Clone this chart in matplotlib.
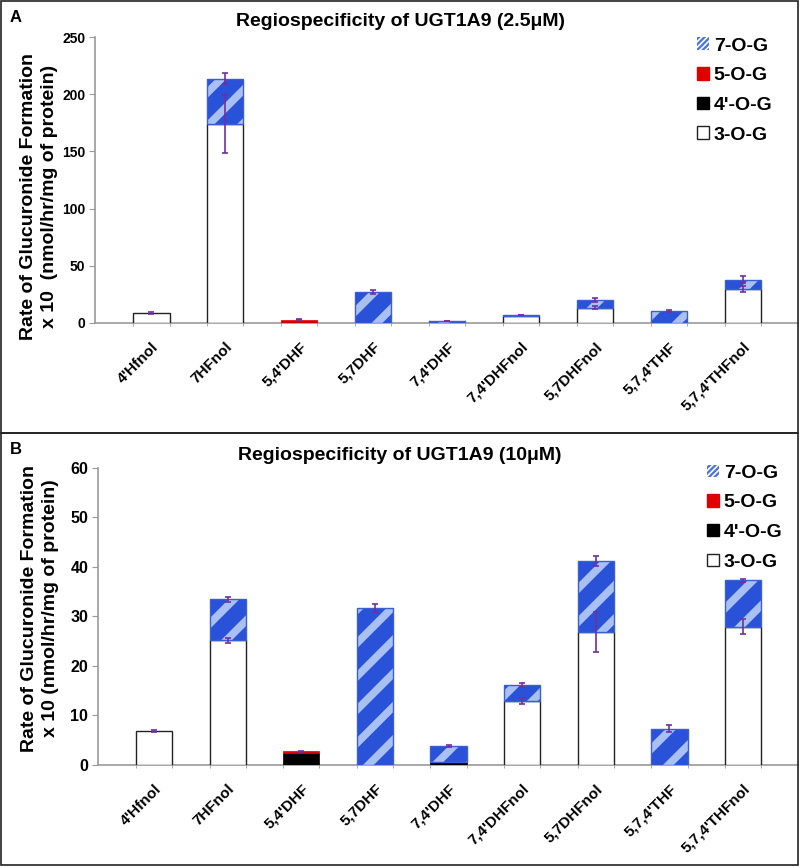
import numpy as np
import matplotlib
matplotlib.use("Agg")
import matplotlib.pyplot as plt
from matplotlib.patches import Patch, Rectangle

plt.rcParams['font.family'] = ['Liberation Sans', 'DejaVu Sans']
plt.rcParams['font.weight'] = 'bold'
plt.rcParams['hatch.linewidth'] = 5.5

compounds = ["4'Hfnol", "7HFnol", "5,4'DHF", "5,7DHF", "7,4'DHF",
             "7,4'DHFnol", "5,7DHFnol", "5,7,4'THF", "5,7,4'THFnol"]
series_names = ["7-O-G", "5-O-G", "4'-O-G", "3-O-G"]

# panel A, 2.5 uM
g3_a = [8.5, 174, 0, 0, 0, 6.3, 13.4, 0, 30]
g4_a = [0, 0, 1.2, 0, 0, 0, 0, 0, 0]
g5_a = [0, 0, 1.8, 0, 0, 0, 0, 0, 0]
g7_a = [0, 39.5, 0, 27, 1.6, 0.6, 6.6, 10.5, 7.8]
err_top_a = [0.8, 5, 0.5, 2, 0.3, 0.3, 1.5, 0.5, 3]
err3_a = [0, 25, 0, 0, 0, 0, 1.5, 0, 2.5]

# panel B, 10 uM
g3_b = [6.8, 25.2, 0, 0, 0, 12.9, 26.9, 0, 27.9]
g4_b = [0, 0, 2.4, 0, 0.7, 0, 0, 0, 0]
g5_b = [0, 0, 0.35, 0, 0, 0, 0, 0, 0]
g7_b = [0, 8.2, 0, 31.7, 3.2, 3.2, 14.3, 7.3, 9.4]
err_top_b = [0.2, 0.5, 0.1, 0.8, 0.2, 0.4, 1.0, 0.7, 0.3]
err3_b = [0, 0.5, 0, 0, 0, 0.6, 4.0, 0, 1.5]

BLUE = '#2a52d8'
STRIPE = '#a9c0f2'
EDGE_BLUE = '#3a5fd0'
ERR = '#7030a0'
AXIS_GRAY = '#9a9a9a'
WIDTH = 0.49


def draw_panel(ax, g3, g4, g5, g7, err_top, err3, ymax, ystep, tick_fs):
    x = np.arange(len(compounds))
    g3, g4, g5, g7 = map(np.array, (g3, g4, g5, g7))
    b4 = g3
    b5 = g3 + g4
    b7 = g3 + g4 + g5
    total = b7 + g7

    m = g3 > 0
    ax.bar(x[m], g3[m], WIDTH, color='white', edgecolor='#222222',
           linewidth=1.0, zorder=2)
    m = g4 > 0
    ax.bar(x[m], g4[m], WIDTH, bottom=b4[m], color='black',
           edgecolor='black', linewidth=0.5, zorder=2)
    m = g5 > 0
    ax.bar(x[m], g5[m], WIDTH, bottom=b5[m], color='#e00000',
           edgecolor='#e00000', linewidth=0.5, zorder=2)
    m = g7 > 0
    ax.bar(x[m], g7[m], WIDTH, bottom=b7[m], color=BLUE, edgecolor=STRIPE,
           hatch='/', linewidth=0, zorder=2)
    ax.bar(x[m], g7[m], WIDTH, bottom=b7[m], fill=False,
           edgecolor=EDGE_BLUE, linewidth=1.0, zorder=3)

    ax.errorbar(x, total, yerr=err_top, fmt='none', ecolor=ERR,
                elinewidth=1.2, capsize=2.5, capthick=1.2, zorder=4)
    e3 = np.array(err3)
    m = e3 > 0
    ax.errorbar(x[m], g3[m], yerr=e3[m], fmt='none', ecolor=ERR,
                elinewidth=1.2, capsize=2.5, capthick=1.2, zorder=4)

    ax.set_xlim(-0.76, 8.74)
    ax.set_ylim(0, ymax)
    ax.set_yticks(np.arange(0, ymax + 1, ystep))
    ax.set_xticks(x)
    ax.set_xticklabels(compounds, rotation=45, ha='right',
                       rotation_mode='anchor', fontsize=11,
                       fontweight='bold')
    ax.tick_params(axis='x', length=0, pad=12)
    ax.set_xticks(np.concatenate([x - WIDTH / 2, x + WIDTH / 2]),
                  minor=True)
    ax.tick_params(axis='x', which='minor', length=5, color=AXIS_GRAY,
                   direction='inout')
    ax.tick_params(axis='y', length=4, color=AXIS_GRAY, labelsize=tick_fs,
                   pad=3)
    for lab in ax.get_yticklabels():
        lab.set_fontweight('bold')
    for side in ('top', 'right'):
        ax.spines[side].set_visible(False)
    for side in ('left', 'bottom'):
        ax.spines[side].set_color(AXIS_GRAY)
        ax.spines[side].set_linewidth(1.2)
    ax.spines['bottom'].set_zorder(1)


def legend_handles():
    with plt.rc_context({'hatch.linewidth': 1.2}):
        blue = Patch(facecolor='#4a72e0', edgecolor='white', hatch='//////',
                     linewidth=0)
    return [
        blue,
        Patch(facecolor='#e00000', edgecolor='#e00000'),
        Patch(facecolor='black', edgecolor='black'),
        Patch(facecolor='white', edgecolor='#222222'),
    ]


fig = plt.figure(figsize=(8.0, 8.67), dpi=100)

# panel frames
fig.add_artist(Rectangle((0.001, 0.5006), 0.997, 0.4984,
                         transform=fig.transFigure, fill=False,
                         edgecolor='#222222', linewidth=1.2))
fig.add_artist(Rectangle((0.001, 0.0023), 0.997, 0.4983,
                         transform=fig.transFigure, fill=False,
                         edgecolor='#222222', linewidth=1.2))

ax_a = fig.add_axes([0.119, 0.6275, 0.878, 0.3298])
draw_panel(ax_a, g3_a, g4_a, g5_a, g7_a, err_top_a, err3_a, 250, 50, 10)
ax_b = fig.add_axes([0.1225, 0.1176, 0.8745, 0.343])
draw_panel(ax_b, g3_b, g4_b, g5_b, g7_b, err_top_b, err3_b, 60, 10, 11.5)

fig.text(400 / 800, 1 - 22 / 867, "Regiospecificity of UGT1A9 (2.5\u03bcM)",
         ha='center', va='center', fontsize=14, fontweight='bold')
fig.text(400 / 800, 1 - 455 / 867, "Regiospecificity of UGT1A9 (10\u03bcM)",
         ha='center', va='center', fontsize=14, fontweight='bold')
fig.text(10 / 800, 1 - 17 / 867, "A", ha='left', va='center',
         fontsize=12, fontweight='bold')
fig.text(10 / 800, 1 - 450 / 867, "B", ha='left', va='center',
         fontsize=12, fontweight='bold')

fig.text(39 / 800, 1 - 196 / 867,
         "Rate of Glucuronide Formation\nx 10  (nmol/hr/mg of protein)",
         rotation=90, ha='center', va='center', multialignment='center',
         fontsize=14, fontweight='bold', linespacing=1.3)
fig.text(40 / 800, 1 - 608 / 867,
         "Rate of Glucuronide Formation\nx 10 (nmol/hr/mg of protein)",
         rotation=90, ha='center', va='center', multialignment='center',
         fontsize=14, fontweight='bold', linespacing=1.3)

for anchor in [(1 - 10 / 800, 1 - 20 / 867), (1 + 0 / 800, 1 - 447 / 867)]:
    leg = fig.legend(legend_handles(), series_names, loc='upper right',
                     bbox_to_anchor=anchor, frameon=False,
                     prop={'size': 14, 'weight': 'bold'},
                     handlelength=0.6, handleheight=0.6, handletextpad=0.25,
                     labelspacing=0.65)
    blue_patch = leg.get_patches()[0]
    if hasattr(blue_patch, 'set_hatch_linewidth'):
        blue_patch.set_hatch_linewidth(1.2)

fig.savefig("out.png", dpi=100)
